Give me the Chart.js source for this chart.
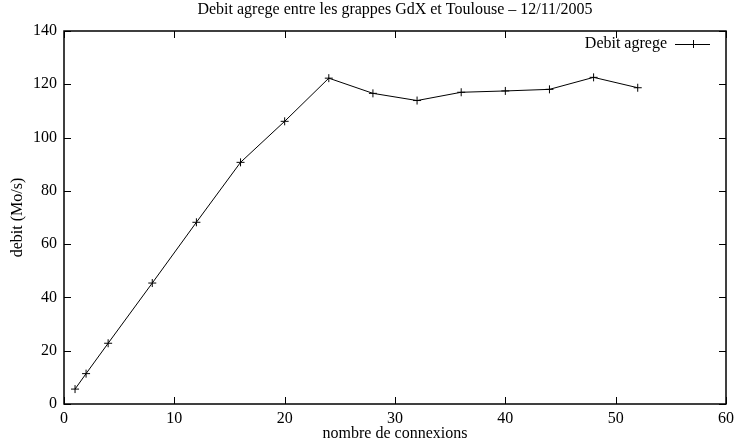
<!DOCTYPE html>
<html>
<head>
<meta charset="utf-8">
<script src="https://cdn.jsdelivr.net/npm/chart.js@4"></script>
<style>
  html, body { margin: 0; padding: 0; background: #fff; }
  #wrap { width: 739px; height: 443px; }
</style>
</head>
<body>
<div id="wrap"><canvas id="myChart"></canvas></div>
<script>
var connexions = [1, 2, 4, 8, 12, 16, 20, 24, 28, 32, 36, 40, 44, 48, 52];
var debit = [5.6, 11.4, 22.8, 45.4, 68.2, 90.7, 106.1, 122.3, 116.6, 113.9, 117, 117.5, 118.1, 122.6, 118.7];
var xTicks = [0, 10, 20, 30, 40, 50, 60];
var yTicks = [0, 20, 40, 60, 80, 100, 120, 140];

var serif = '"Liberation Serif", "DejaVu Serif", serif';

// gnuplot-like frame: box around the plot with ticks pointing inward on all sides
var frame = {
    id: 'frame',
    afterDatasetsDraw: function(chart) {
        var c = chart.ctx, a = chart.chartArea;
        var xs = chart.scales.x, ys = chart.scales.y;
        var len = 7;
        c.save();
        c.strokeStyle = '#000';
        c.lineWidth = 1;
        c.beginPath();
        xTicks.forEach(function(v) {
            var px = Math.round(xs.getPixelForValue(v)) + 0.5;
            c.moveTo(px, a.bottom); c.lineTo(px, a.bottom - len);
            c.moveTo(px, a.top); c.lineTo(px, a.top + len);
        });
        yTicks.forEach(function(v) {
            var py = Math.round(ys.getPixelForValue(v)) + 0.5;
            c.moveTo(a.left, py); c.lineTo(a.left + len, py);
            c.moveTo(a.right, py); c.lineTo(a.right - len, py);
        });
        c.stroke();
        c.lineWidth = 1.5;
        c.strokeRect(a.left, a.top, a.right - a.left, a.bottom - a.top);

        // key in the top right corner
        var ds = chart.data.datasets[0];
        var ly = a.top + 13;
        var x1 = a.right - 51, x2 = a.right - 16;
        c.font = '16px ' + serif;
        c.fillStyle = '#000';
        c.textAlign = 'right';
        c.textBaseline = 'middle';
        c.fillText(ds.label, x1 - 8, ly);
        c.lineWidth = 1;
        c.beginPath();
        c.moveTo(x1, ly + 0.5); c.lineTo(x2, ly + 0.5);
        var mx = Math.round((x1 + x2) / 2) + 0.5;
        c.moveTo(mx - 4, ly + 0.5); c.lineTo(mx + 4, ly + 0.5);
        c.moveTo(mx, ly - 4); c.lineTo(mx, ly + 4);
        c.stroke();
        c.restore();
    }
};

var ctx = document.getElementById('myChart').getContext('2d');
var myLineChart = new Chart(ctx, {
    type: 'line',
    data: {
        datasets: [{
            label: 'Debit agrege',
            data: connexions.map(function(x, i) { return {x: x, y: debit[i]}; }),
            borderColor: '#000',
            backgroundColor: 'transparent',
            borderWidth: 1,
            tension: 0,
            pointStyle: 'cross',
            pointRadius: 4,
            pointBorderWidth: 1,
            pointBorderColor: '#000'
        }]
    },
    options: {
        responsive: true,
        maintainAspectRatio: false,
        animation: false,
        layout: { padding: { left: 0, right: 11, top: 0, bottom: 0 } },
        plugins: {
            legend: { display: false },
            tooltip: { enabled: false },
            title: {
                display: true,
                fullSize: false,
                text: 'Debit agrege entre les grappes GdX et Toulouse – 12/11/2005',
                color: '#000',
                font: { family: serif, size: 16, weight: 'normal' },
                padding: { top: 0, bottom: 11.8 }
            }
        },
        scales: {
            x: {
                type: 'linear',
                min: 0,
                max: 60,
                afterBuildTicks: function(s) { s.ticks = xTicks.map(function(v) { return {value: v}; }); },
                afterFit: function(s) { s.height = 39; },
                grid: { display: false, drawTicks: false },
                border: { display: false },
                ticks: { color: '#000', font: { family: serif, size: 16 }, padding: 5, maxRotation: 0 },
                title: {
                    display: true,
                    text: 'nombre de connexions',
                    color: '#000',
                    font: { family: serif, size: 16 },
                    padding: { top: 0, bottom: 0 }
                }
            },
            y: {
                type: 'linear',
                min: 0,
                max: 140,
                afterBuildTicks: function(s) { s.ticks = yTicks.map(function(v) { return {value: v}; }); },
                afterFit: function(s) { s.width = 64; },
                grid: { display: false, drawTicks: false },
                border: { display: false },
                ticks: { color: '#000', font: { family: serif, size: 16 }, padding: 7 },
                title: {
                    display: true,
                    text: 'debit (Mo/s)',
                    color: '#000',
                    font: { family: serif, size: 16 },
                    padding: { top: 8, bottom: 0 }
                }
            }
        }
    },
    plugins: [frame]
});
</script>
</body>
</html>
